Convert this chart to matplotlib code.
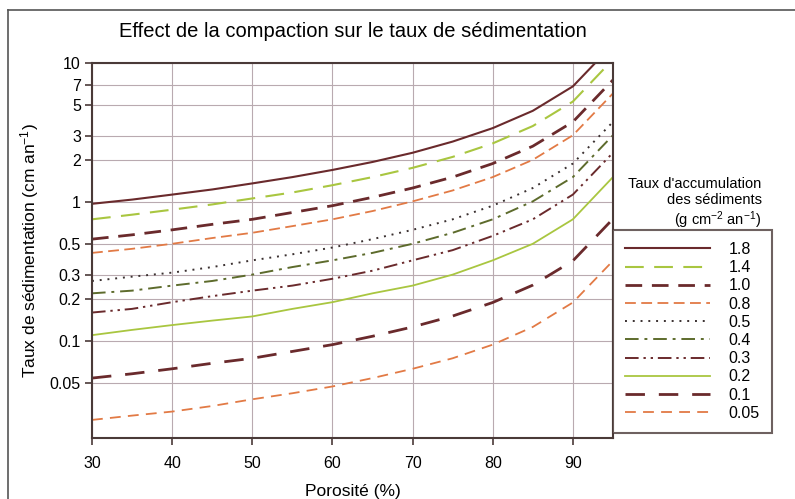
import matplotlib.pyplot as plt
from matplotlib.lines import Line2D

plt.rcParams['font.family'] = ['Liberation Sans', 'DejaVu Sans']
plt.rcParams['mathtext.fontset'] = 'custom'
plt.rcParams['mathtext.rm'] = 'Liberation Sans'
plt.rcParams['mathtext.default'] = 'regular'

# porosity (%) and sedimentation rate (cm/an)
porosite = [30, 35, 40, 45, 50, 55, 60, 65, 70, 75, 80, 85, 90, 95]

taux_18 = [0.97, 1.04, 1.13, 1.23, 1.36, 1.51, 1.70, 1.94, 2.26, 2.72, 3.40, 4.53, 6.79, 13.6]
taux_14 = [0.75, 0.81, 0.88, 0.96, 1.06, 1.17, 1.32, 1.51, 1.76, 2.11, 2.64, 3.52, 5.28, 10.6]
taux_10 = [0.54, 0.58, 0.63, 0.69, 0.75, 0.84, 0.94, 1.08, 1.26, 1.51, 1.89, 2.52, 3.77, 7.55]
taux_08 = [0.43, 0.46, 0.50, 0.55, 0.60, 0.67, 0.75, 0.86, 1.01, 1.21, 1.51, 2.01, 3.02, 6.04]
taux_05 = [0.27, 0.29, 0.31, 0.34, 0.38, 0.42, 0.47, 0.54, 0.63, 0.75, 0.94, 1.26, 1.89, 3.77]
taux_04 = [0.22, 0.23, 0.25, 0.27, 0.30, 0.34, 0.38, 0.43, 0.50, 0.60, 0.75, 1.01, 1.51, 3.02]
taux_03 = [0.16, 0.17, 0.19, 0.21, 0.23, 0.25, 0.28, 0.32, 0.38, 0.45, 0.57, 0.75, 1.13, 2.26]
taux_02 = [0.11, 0.12, 0.13, 0.14, 0.15, 0.17, 0.19, 0.22, 0.25, 0.30, 0.38, 0.50, 0.75, 1.51]
taux_01 = [0.054, 0.058, 0.063, 0.069, 0.075, 0.084, 0.094, 0.108, 0.126, 0.151, 0.189, 0.252, 0.377, 0.755]
taux_005 = [0.027, 0.029, 0.031, 0.034, 0.038, 0.042, 0.047, 0.054, 0.063, 0.075, 0.094, 0.126, 0.189, 0.377]

labels = ['1.8', '1.4', '1.0', '0.8', '0.5', '0.4', '0.3', '0.2', '0.1', '0.05']
series = [taux_18, taux_14, taux_10, taux_08, taux_05, taux_04, taux_03, taux_02, taux_01, taux_005]

yticks = [10, 7, 5, 3, 2, 1, 0.5, 0.3, 0.2, 0.1, 0.05]
ytick_labels = ['10', '7', '5', '3', '2', '1', '0.5', '0.3', '0.2', '0.1', '0.05']
xticks = [30, 40, 50, 60, 70, 80, 90]

maroon = '#6a2a2c'
vert = '#a9c640'
orange = '#e27a45'
olive = '#5d6b2c'
sombre = '#4a3a38'

styles = [
    dict(color=maroon, lw=1.5, ls='-'),
    dict(color=vert, lw=1.5, dashes=(9, 5)),
    dict(color=maroon, lw=2.0, dashes=(6, 3.5)),
    dict(color=orange, lw=1.3, dashes=(6, 3)),
    dict(color='#3a3030', lw=1.4, dashes=(1, 3)),
    dict(color=olive, lw=1.4, dashes=(7, 3, 1.5, 3)),
    dict(color=maroon, lw=1.4, dashes=(7, 2.5, 1.2, 2.5, 1.2, 2.5)),
    dict(color=vert, lw=1.3, ls='-'),
    dict(color=maroon, lw=2.0, dashes=(7, 5)),
    dict(color=orange, lw=1.3, dashes=(6, 4)),
]

fig = plt.figure(figsize=(7.95, 4.99), dpi=100)
ax = fig.add_axes([0.1157, 0.1222, 0.6553, 0.7515])

handles = []
for vals, lab, st in zip(series, labels, styles):
    ln, = ax.plot(porosite, vals, label=lab, **st)
    handles.append(ln)

ax.set_yscale('log')
ax.set_xlim(30, 95)
ax.set_ylim(0.02, 10)
ax.set_yticks(yticks)
ax.set_yticklabels(ytick_labels)
ax.minorticks_off()
ax.set_xticks(xticks)
ax.grid(True, color='#b9aab0', lw=0.8)
ax.tick_params(direction='out', length=5, width=1.2, color=sombre, labelsize=11.5, pad=3)
ax.tick_params(axis='x', pad=8)
for sp in ax.spines.values():
    sp.set_color(sombre)
    sp.set_linewidth(1.5)

ax.set_title('Effect de la compaction sur le taux de sédimentation', fontsize=14.5, pad=19, x=0.5)
ax.set_xlabel('Porosité (%)', fontsize=12.5, labelpad=9)
ax.set_ylabel('Taux de sédimentation (cm an$^{-1}$)', fontsize=12.5, labelpad=6)

leg = fig.legend(handles=handles, loc='upper left', bbox_to_anchor=(0.771, 0.539),
                 frameon=True, fancybox=False, edgecolor=sombre, fontsize=11.5,
                 handlelength=5.3, handletextpad=1.2, labelspacing=0.2,
                 borderpad=0.75, borderaxespad=0)
leg.get_frame().set_linewidth(1.5)

fig.text(0.958, 0.645, "Taux d'accumulation\ndes sédiments\n(g cm$^{-2}$ an$^{-1}$)",
         ha='right', va='top', fontsize=10.5, multialignment='right', linespacing=1.15)

# cadre de la figure
fig.add_artist(Line2D([0.01, 1.0], [0.98, 0.98], color='#555555', lw=1.2))
fig.add_artist(Line2D([0.01, 0.01], [0.0, 0.98], color='#555555', lw=1.2))

fig.savefig('out.png', dpi=100)
